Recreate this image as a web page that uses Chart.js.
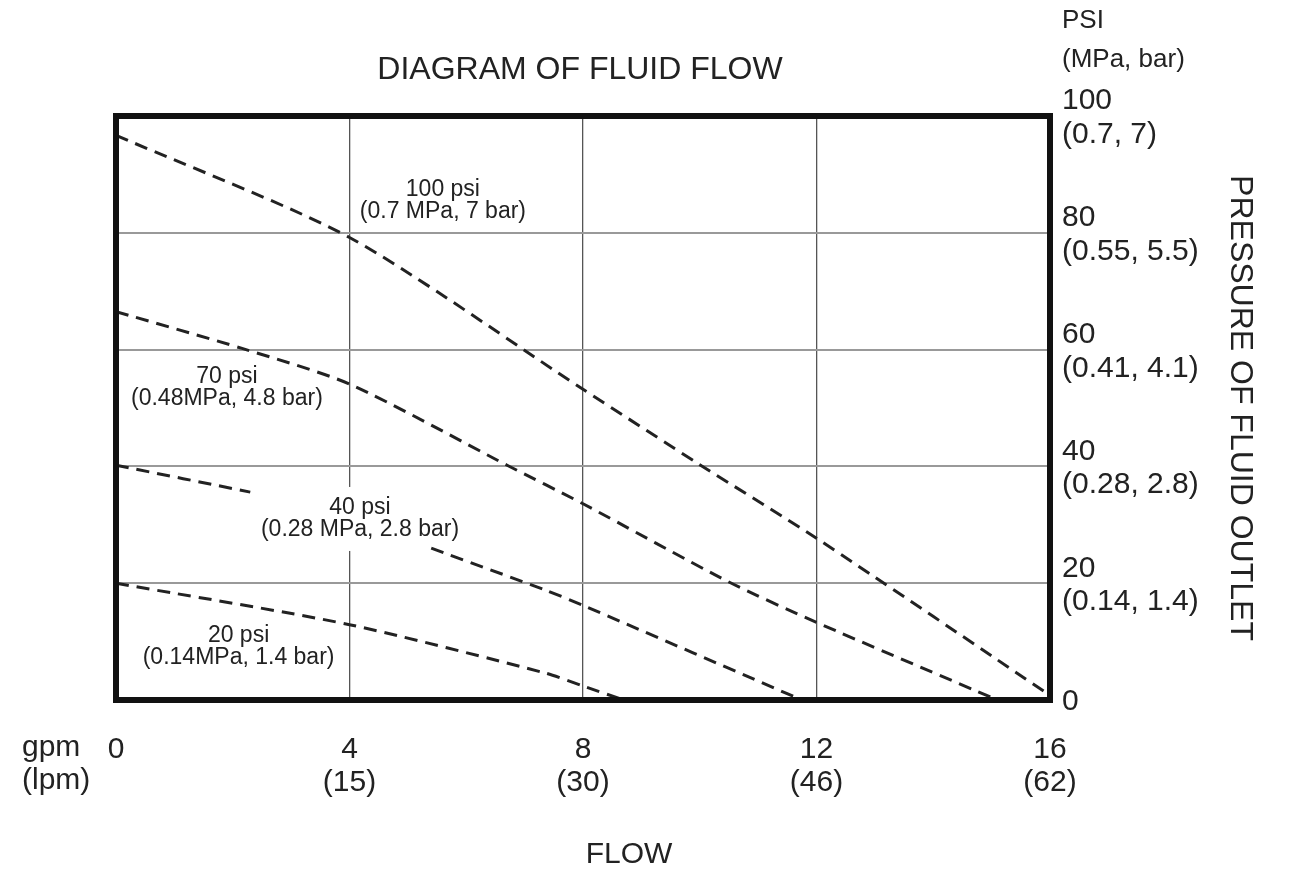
<!DOCTYPE html>
<html>
<head>
<meta charset="utf-8">
<script src="https://cdn.jsdelivr.net/npm/chart.js@4.4.1/dist/chart.umd.min.js"></script>
<style>
  html, body { margin: 0; padding: 0; background: #fff; }
  #wrap { width: 1311px; height: 872px; position: relative; }
</style>
</head>
<body>
<div id="wrap"><canvas id="myChart"></canvas></div>
<script>
// ticks
const gpmTicks = [0, 4, 8, 12, 16];
const lpmLabels = ['', '(15)', '(30)', '(46)', '(62)'];
const psiTicks = [0, 20, 40, 60, 80, 100];
const mpaBarLabels = ['', '(0.14, 1.4)', '(0.28, 2.8)', '(0.41, 4.1)', '(0.55, 5.5)', '(0.7, 7)'];

// curves (flow in gpm, pressure in psi)
const flow100 = [0, 4, 8, 10, 12, 16];
const psi100 = [96.7, 79.2, 53.2, 40.3, 27.7, 0.8];
const flow70 = [0, 2.16, 4, 6.7, 8, 10.5, 12, 15.1];
const psi70 = [66.5, 60.2, 54.1, 40.2, 33.6, 20.2, 13.3, 0];
const flow40 = [0, 2.3, 3.8, 5.4, 7.36, 8, 11.75];
const psi40 = [40.2, 35.6, null, 26, 18.8, 16.2, 0]; // line broken by its label
const flow20 = [0, 4, 7.36, 8, 8.7];
const psi20 = [20, 12.9, 4.6, 2.4, 0];

const curveNames = ['100 psi', '70 psi', '40 psi', '20 psi'];
const curveSubs = ['(0.7 MPa, 7 bar)', '(0.48MPa, 4.8 bar)', '(0.28 MPa, 2.8 bar)', '(0.14MPa, 1.4 bar)'];
const labelAnchors = [[5.6, 85.5], [1.9, 53.5], [4.18, 31.0], [2.1, 9.2]];

const FONT = "'Liberation Sans', Arial, sans-serif";
Chart.defaults.font.family = FONT;
Chart.defaults.color = '#222';

function pts(xs, ys) {
    return xs.map((x, i) => ({ x: x, y: ys[i] }));
}

function curve(xs, ys) {
    return {
        data: pts(xs, ys),
        borderColor: '#222',
        borderWidth: 3,
        borderDash: [13, 8],
        pointRadius: 0,
        fill: false,
        spanGaps: false,
        tension: 0.25
    };
}

const decor = {
    id: 'decor',
    beforeDraw(chart) {
        const ctx = chart.ctx;
        ctx.save();
        ctx.fillStyle = '#fff';
        ctx.fillRect(0, 0, chart.width, chart.height);
        ctx.restore();
    },
    beforeDatasetsDraw(chart) {
        // the 40 psi label sits on a white patch that hides the grid behind it
        const ctx = chart.ctx;
        const xs = chart.scales.x, ys = chart.scales.y;
        ctx.save();
        ctx.font = '23px ' + FONT;
        const w = ctx.measureText(curveSubs[2]).width + 12;
        const cx = xs.getPixelForValue(labelAnchors[2][0]);
        const cy = ys.getPixelForValue(labelAnchors[2][1]);
        ctx.fillStyle = '#fff';
        ctx.fillRect(cx - w / 2, cy - 32, w, 64);
        ctx.restore();
    },
    afterDatasetsDraw(chart) {
        const ctx = chart.ctx;
        const a = chart.chartArea;
        const xs = chart.scales.x, ys = chart.scales.y;
        ctx.save();
        ctx.strokeStyle = '#111';
        ctx.lineWidth = 6;
        ctx.strokeRect(a.left, a.top, a.right - a.left, a.bottom - a.top);

        ctx.fillStyle = '#222';
        ctx.font = '23px ' + FONT;
        ctx.textAlign = 'center';
        ctx.textBaseline = 'middle';
        curveNames.forEach((name, i) => {
            const cx = xs.getPixelForValue(labelAnchors[i][0]);
            const cy = ys.getPixelForValue(labelAnchors[i][1]);
            ctx.fillText(name, cx, cy - 11);
            ctx.fillText(curveSubs[i], cx, cy + 11);
        });
        ctx.restore();
    },
    afterDraw(chart) {
        const ctx = chart.ctx;
        ctx.save();
        ctx.fillStyle = '#222';
        ctx.textBaseline = 'middle';

        ctx.textAlign = 'center';
        ctx.font = '32px ' + FONT;
        ctx.fillText('DIAGRAM OF FLUID FLOW', 580, 70);
        ctx.font = '30px ' + FONT;
        ctx.fillText('FLOW', 629, 855);

        ctx.textAlign = 'left';
        ctx.font = '26px ' + FONT;
        ctx.fillText('PSI', 1062, 21);
        ctx.fillText('(MPa, bar)', 1062, 60);

        ctx.font = '30px ' + FONT;
        ctx.fillText('gpm', 22, 748);
        ctx.fillText('(lpm)', 22, 781);
        ctx.restore();
    }
};

const ctx = document.getElementById('myChart').getContext('2d');
const myChart = new Chart(ctx, {
    type: 'line',
    data: {
        datasets: [
            curve(flow100, psi100),
            curve(flow70, psi70),
            curve(flow40, psi40),
            curve(flow20, psi20)
        ]
    },
    options: {
        responsive: true,
        maintainAspectRatio: false,
        animation: false,
        layout: { padding: { left: 116, top: 116, right: 0, bottom: 0 } },
        plugins: {
            legend: { display: false },
            tooltip: { enabled: false },
            title: { display: false }
        },
        scales: {
            x: {
                type: 'linear',
                position: 'bottom',
                min: 0,
                max: 16,
                afterBuildTicks: (s) => { s.ticks = gpmTicks.map(v => ({ value: v })); },
                afterFit: (s) => { s.height = 172; },
                border: { display: false },
                grid: { color: '#555', lineWidth: 1.3, drawTicks: false },
                ticks: {
                    padding: 33,
                    font: { size: 30, lineHeight: 1.1 },
                    color: '#222',
                    callback: (v) => {
                        const i = gpmTicks.indexOf(v);
                        return lpmLabels[i] ? [String(v), lpmLabels[i]] : String(v);
                    }
                }
            },
            y: {
                type: 'linear',
                position: 'right',
                min: 0,
                max: 100,
                afterBuildTicks: (s) => { s.ticks = psiTicks.map(v => ({ value: v })); },
                afterFit: (s) => { s.width = 261; },
                border: { display: false },
                grid: { color: '#999', lineWidth: 2, drawTicks: false },
                title: {
                    display: true,
                    text: 'PRESSURE OF FLUID OUTLET',
                    font: { size: 32, lineHeight: 1.2 },
                    color: '#222',
                    padding: { top: 52, bottom: 0 }
                },
                ticks: {
                    padding: 12,
                    labelOffset: 2,
                    font: { size: 30, lineHeight: 1.12 },
                    color: '#222',
                    callback: (v) => {
                        const i = psiTicks.indexOf(v);
                        return mpaBarLabels[i] ? [String(v), mpaBarLabels[i]] : String(v);
                    }
                }
            }
        }
    },
    plugins: [decor]
});
</script>
</body>
</html>
